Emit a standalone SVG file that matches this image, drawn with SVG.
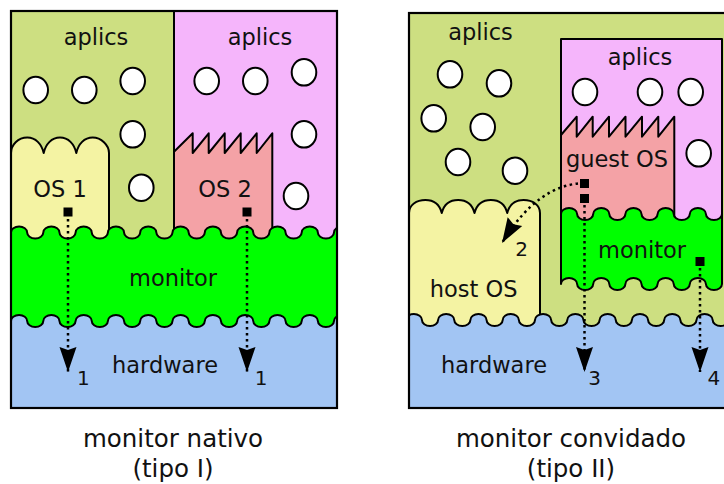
<svg xmlns="http://www.w3.org/2000/svg" width="724" height="484" viewBox="0 0 724 484">
<style>
.t{font-family:"DejaVu Sans","Liberation Sans",sans-serif;font-size:22.5px;fill:#111;text-anchor:middle}
.cap{font-family:"DejaVu Sans","Liberation Sans",sans-serif;font-size:24.5px;fill:#111;text-anchor:middle}
.num{font-family:"DejaVu Sans","Liberation Sans",sans-serif;font-size:20px;fill:#111;text-anchor:middle}
.s{stroke:#000;stroke-width:2;stroke-linejoin:round}
.apl{fill:#cddf81}
.pnk{fill:#f5b5fb}
.os{fill:#f4f3a3}
.os2{fill:#f4a2a6}
.mon{fill:#00ff00}
.hw{fill:#a2c5f3}
.c{fill:#fff;stroke:#000;stroke-width:2}
.sq{fill:#000}
.dot{fill:none;stroke:#000;stroke-width:2.5;stroke-dasharray:2.5 3.5;marker-end:url(#ah)}
</style>
<defs>
<marker id="ah" markerUnits="userSpaceOnUse" markerWidth="26" markerHeight="18" refX="25" refY="8.5" orient="auto" overflow="visible">
<path d="M0,0 L25,8.5 L0,17 L3,8.5 Z" fill="#000"/>
</marker>
<clipPath id="clipL"><rect x="11" y="11" width="326" height="397"/></clipPath>
<clipPath id="clipR"><rect x="409" y="13" width="340" height="395"/></clipPath>
</defs>
<rect width="724" height="484" fill="#fff"/>

<!-- Left diagram -->
<g clip-path="url(#clipL)">
<g id="aplics-L1"><rect class="apl" x="11" y="11" width="163" height="240"/>
<ellipse class="c" cx="35.7" cy="90" rx="12.3" ry="13.3"/>
<ellipse class="c" cx="84.3" cy="90" rx="12.3" ry="13.3"/>
<ellipse class="c" cx="132.7" cy="81" rx="12.3" ry="13.3"/>
<ellipse class="c" cx="132.7" cy="134.3" rx="12.3" ry="13.3"/>
<ellipse class="c" cx="141.3" cy="187.7" rx="12.3" ry="13.3"/>
<text class="t" x="96" y="45">aplics</text></g>
<g id="aplics-L2"><rect class="pnk s" x="174" y="11" width="170" height="240"/>
<ellipse class="c" cx="206.7" cy="81" rx="12.3" ry="13.3"/>
<ellipse class="c" cx="255.3" cy="81" rx="12.3" ry="13.3"/>
<ellipse class="c" cx="304" cy="72.3" rx="12.3" ry="13.3"/>
<ellipse class="c" cx="304" cy="134.3" rx="12.3" ry="13.3"/>
<ellipse class="c" cx="296" cy="196" rx="12.3" ry="13.3"/>
<text class="t" x="260" y="45">aplics</text></g>
<g id="os1"><path class="os s" d="M11,250 L11,153 C11,145 18,137.5 27.3,137.5 C35.6,137.5 41.6,144 43.7,153 C45.7,144 51.7,137.5 60,137.5 C68.3,137.5 74.3,144 76.3,153 C78.3,144 84.3,137.5 92.7,137.5 C101,137.5 109,145 109,153 L109,250 Z"/>
<text class="t" x="60" y="196.5">OS 1</text></g>
<g id="os2"><path class="os2 s" d="M174,151.7 L192.7,133.3 L192.7,153 L208.7,133.3 L208.7,153 L224.7,133.3 L224.7,153 L240.7,133.3 L240.7,153 L256.7,133.3 L256.7,153 L272.3,133.3 L272.3,250 L174,250 Z"/>
<text class="t" x="225" y="196.5">OS 2</text></g>
<g id="monitor-L"><path class="mon s" d="M11,232.5 a8.075,6 0 0 1 16.15,0 a8.075,6 0 0 0 16.15,0 a8.075,6 0 0 1 16.15,0 a8.075,6 0 0 0 16.15,0 a8.075,6 0 0 1 16.15,0 a8.075,6 0 0 0 16.15,0 a8.075,6 0 0 1 16.15,0 a8.075,6 0 0 0 16.15,0 a8.075,6 0 0 1 16.15,0 a8.075,6 0 0 0 16.15,0 a8.075,6 0 0 1 16.15,0 a8.075,6 0 0 0 16.15,0 a8.075,6 0 0 1 16.15,0 a8.075,6 0 0 0 16.15,0 a8.075,6 0 0 1 16.15,0 a8.075,6 0 0 0 16.15,0 a8.075,6 0 0 1 16.15,0 a8.075,6 0 0 0 16.15,0 a8.075,6 0 0 1 16.15,0 a8.075,6 0 0 0 16.15,0 a8.075,6 0 0 1 16.15,0 a8.075,6 0 0 0 16.15,0 L366.3,420 L11,420 Z"/>
<text class="t" x="173" y="286">monitor</text></g>
<g id="hardware-L"><path class="hw s" d="M11,321 a8.075,6 0 0 1 16.15,0 a8.075,6 0 0 0 16.15,0 a8.075,6 0 0 1 16.15,0 a8.075,6 0 0 0 16.15,0 a8.075,6 0 0 1 16.15,0 a8.075,6 0 0 0 16.15,0 a8.075,6 0 0 1 16.15,0 a8.075,6 0 0 0 16.15,0 a8.075,6 0 0 1 16.15,0 a8.075,6 0 0 0 16.15,0 a8.075,6 0 0 1 16.15,0 a8.075,6 0 0 0 16.15,0 a8.075,6 0 0 1 16.15,0 a8.075,6 0 0 0 16.15,0 a8.075,6 0 0 1 16.15,0 a8.075,6 0 0 0 16.15,0 a8.075,6 0 0 1 16.15,0 a8.075,6 0 0 0 16.15,0 a8.075,6 0 0 1 16.15,0 a8.075,6 0 0 0 16.15,0 a8.075,6 0 0 1 16.15,0 a8.075,6 0 0 0 16.15,0 L366.3,420 L11,420 Z"/>
<text class="t" x="165" y="373">hardware</text></g>
</g>
<rect x="11" y="11" width="326" height="397" fill="none" stroke="#000" stroke-width="2.2"/>

<!-- Right diagram -->
<g clip-path="url(#clipR)">
<g id="aplics-R1"><rect class="apl" x="409" y="13" width="340" height="395"/>
<ellipse class="c" cx="450" cy="74.3" rx="12.3" ry="13.3"/>
<ellipse class="c" cx="499" cy="83.3" rx="12.3" ry="13.3"/>
<ellipse class="c" cx="433.7" cy="118.3" rx="12.3" ry="13.3"/>
<ellipse class="c" cx="482.7" cy="127" rx="12.3" ry="13.3"/>
<ellipse class="c" cx="458" cy="162" rx="12.3" ry="13.3"/>
<ellipse class="c" cx="515" cy="170.7" rx="12.3" ry="13.3"/>
<text class="t" x="480.5" y="40">aplics</text></g>
<g id="aplics-R2"><rect class="pnk s" x="561" y="39" width="161" height="190"/>
<ellipse class="c" cx="585" cy="92" rx="12.3" ry="13.3"/>
<ellipse class="c" cx="650" cy="92" rx="12.3" ry="13.3"/>
<ellipse class="c" cx="690.7" cy="92" rx="12.3" ry="13.3"/>
<ellipse class="c" cx="698.7" cy="153.3" rx="12.3" ry="13.3"/>
<text class="t" x="640" y="65">aplics</text></g>
<g id="guest-os"><path class="os2 s" d="M561,135 L576.7,116.7 L576.7,136.7 L592.7,116.7 L592.7,136.7 L609,116.7 L609,136.7 L625.5,116.7 L625.5,136.7 L642,116.7 L642,136.7 L658.3,116.7 L658.3,136.7 L674.3,116.7 L674.3,230 L561,230 Z"/>
<text class="t" x="617" y="166.7">guest OS</text></g>
<g id="monitor-R"><path class="mon s" d="M561,214 a8.05,6 0 0 1 16.1,0 a8.05,6 0 0 0 16.1,0 a8.05,6 0 0 1 16.1,0 a8.05,6 0 0 0 16.1,0 a8.05,6 0 0 1 16.1,0 a8.05,6 0 0 0 16.1,0 a8.05,6 0 0 1 16.1,0 a8.05,6 0 0 0 16.1,0 a8.05,6 0 0 1 16.1,0 a8.05,6 0 0 0 16.1,0 L722,284 a8.05,6 0 0 1 -16.1,0 a8.05,6 0 0 0 -16.1,0 a8.05,6 0 0 1 -16.1,0 a8.05,6 0 0 0 -16.1,0 a8.05,6 0 0 1 -16.1,0 a8.05,6 0 0 0 -16.1,0 a8.05,6 0 0 1 -16.1,0 a8.05,6 0 0 0 -16.1,0 a8.05,6 0 0 1 -16.1,0 a8.05,6 0 0 0 -16.1,0 Z"/>
<text class="t" x="642" y="258">monitor</text></g>
<g id="host-os"><path class="os s" d="M409,335 L409,213 C409,205 416.5,200 425.4,200 C434.3,200 439.7,205 441.75,213 C443.8,205 449.2,200 458.1,200 C467,200 472.4,205 474.5,213 C476.6,205 482,200 490.9,200 C499.8,200 505.2,205 507.25,213 C509.3,205 514.7,200 523.6,200 C532.5,200 540,205 540,213 L540,335 Z"/>
<text class="t" x="473.7" y="297">host OS</text></g>
<g id="hardware-R"><path class="hw s" d="M405.8,320 a8.075,6 0 0 1 16.15,0 a8.075,6 0 0 0 16.15,0 a8.075,6 0 0 1 16.15,0 a8.075,6 0 0 0 16.15,0 a8.075,6 0 0 1 16.15,0 a8.075,6 0 0 0 16.15,0 a8.075,6 0 0 1 16.15,0 a8.075,6 0 0 0 16.15,0 a8.075,6 0 0 1 16.15,0 a8.075,6 0 0 0 16.15,0 a8.075,6 0 0 1 16.15,0 a8.075,6 0 0 0 16.15,0 a8.075,6 0 0 1 16.15,0 a8.075,6 0 0 0 16.15,0 a8.075,6 0 0 1 16.15,0 a8.075,6 0 0 0 16.15,0 a8.075,6 0 0 1 16.15,0 a8.075,6 0 0 0 16.15,0 a8.075,6 0 0 1 16.15,0 a8.075,6 0 0 0 16.15,0 a8.075,6 0 0 1 16.15,0 a8.075,6 0 0 0 16.15,0 L761,420 L405.8,420 Z"/>
<text class="t" x="494" y="373">hardware</text></g>
</g>
<rect x="409" y="13" width="340" height="395" fill="none" stroke="#000" stroke-width="2.2"/>

<!-- connectors -->
<g id="connectors">
<rect class="sq" x="63.5" y="207.5" width="9" height="9"/>
<rect class="sq" x="242.5" y="207.5" width="9" height="9"/>
<rect class="sq" x="580" y="179" width="9" height="9"/>
<rect class="sq" x="580" y="194" width="9" height="9"/>
<rect class="sq" x="695.5" y="257" width="9" height="9"/>
<path class="dot" d="M68,219 V372"/>
<path class="dot" d="M247,219 V372"/>
<path class="dot" d="M578,183.5 C555,186 528,200 502,243"/>
<path class="dot" d="M584.5,205 V372"/>
<path class="dot" d="M700,268 V372"/>
<text class="num" x="83.3" y="385">1</text>
<text class="num" x="261" y="385">1</text>
<text class="num" x="521.5" y="256">2</text>
<text class="num" x="594.7" y="385">3</text>
<text class="num" x="713.8" y="385">4</text>
</g>

<g id="captions">
<text class="cap" x="173" y="446.5">monitor nativo</text>
<text class="cap" x="173" y="476.5">(tipo I)</text>
<text class="cap" x="571" y="446.5">monitor convidado</text>
<text class="cap" x="571" y="476.5">(tipo II)</text>
</g>
</svg>
